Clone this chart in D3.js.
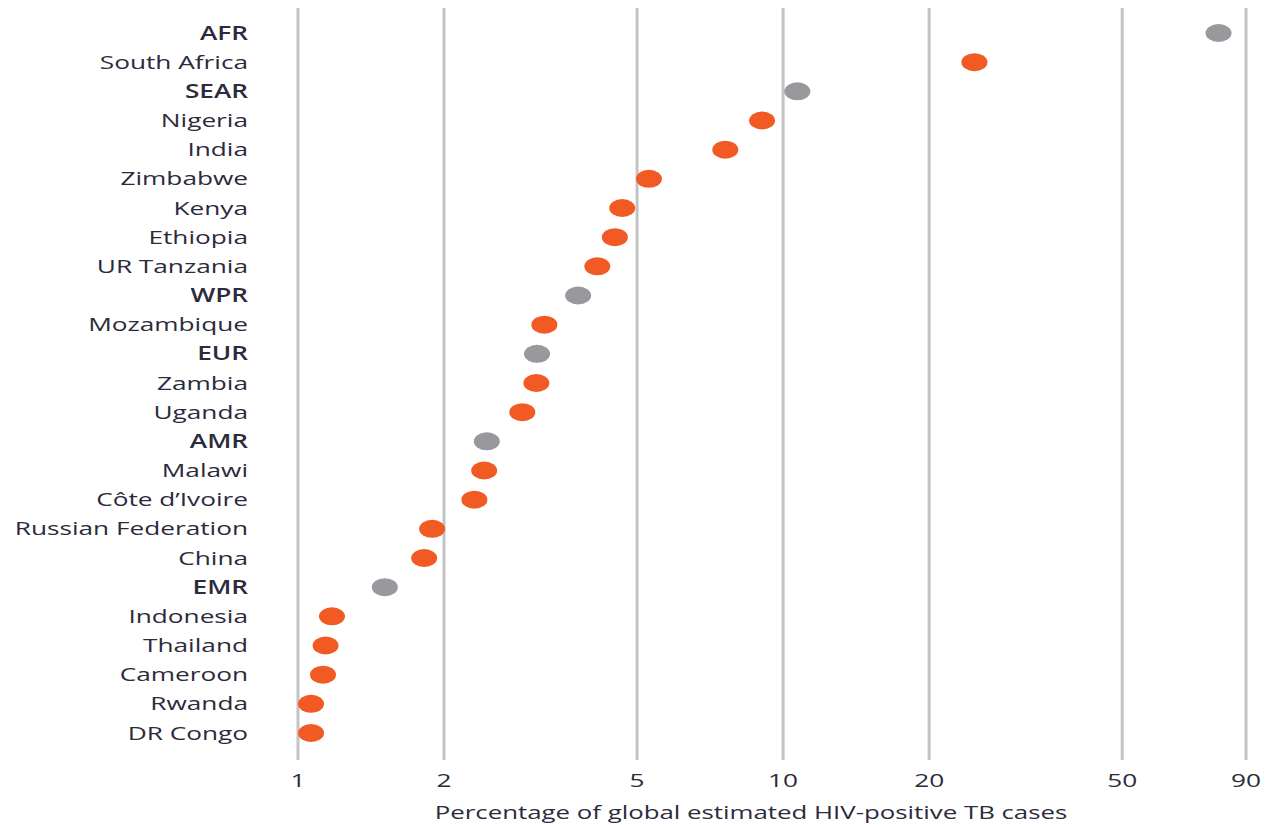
<!DOCTYPE html>
<html>
<head>
<meta charset="utf-8">
<script src="https://cdn.jsdelivr.net/npm/d3@7"></script>
<style>
  body { margin: 0; background: #fff; }
  svg text { font-family: "Open Sans", "DejaVu Sans", sans-serif; }
</style>
</head>
<body>
<div id="chart"></div>
<script>
// rows top to bottom
const names = ["AFR", "South Africa", "SEAR", "Nigeria", "India", "Zimbabwe", "Kenya", "Ethiopia",
  "UR Tanzania", "WPR", "Mozambique", "EUR", "Zambia", "Uganda", "AMR", "Malawi", "Côte d’Ivoire",
  "Russian Federation", "China", "EMR", "Indonesia", "Thailand", "Cameroon", "Rwanda", "DR Congo"];
const values = [79, 24.8, 10.7, 9.05, 7.6, 5.29, 4.66, 4.5, 4.14, 3.78, 3.22, 3.11, 3.1, 2.9,
  2.45, 2.42, 2.31, 1.89, 1.82, 1.51, 1.175, 1.14, 1.126, 1.064, 1.064];
const regions = ["AFR", "SEAR", "WPR", "EUR", "AMR", "EMR"];
const tickValues = [1, 2, 5, 10, 20, 50, 90];
const axisTitle = "Percentage of global estimated HIV-positive TB cases";

const width = 1268, height = 825;
const sx = 1.38; // the source type is set wide
const svg = d3.select("#chart").append("svg")
  .attr("width", width).attr("height", height);

const x = d3.scaleLog().domain([1, 90]).range([298, 1246]);
const y = d3.scalePoint().domain(names).range([33, 733]);

// gridlines
svg.append("g").selectAll("line")
  .data(tickValues).enter().append("line")
  .attr("x1", d => x(d)).attr("x2", d => x(d))
  .attr("y1", 8).attr("y2", 760)
  .attr("stroke", "#c3c3c7").attr("stroke-width", 3);

// tick labels
svg.append("g").selectAll("text")
  .data(tickValues).enter().append("text")
  .attr("transform", d => `translate(${x(d)},787) scale(${sx},1)`)
  .attr("text-anchor", "middle")
  .attr("font-size", 19).attr("fill", "#2b2b3b")
  .text(d => d);

svg.append("text")
  .attr("transform", `translate(751,819) scale(1.36,1)`)
  .attr("text-anchor", "middle")
  .attr("font-size", 19).attr("fill", "#2b2b3b")
  .text(axisTitle);

// row labels
svg.append("g").selectAll("text")
  .data(names).enter().append("text")
  .attr("transform", d => `translate(248,${y(d)}) scale(${sx},1)`)
  .attr("dy", "0.35em")
  .attr("text-anchor", "end")
  .attr("font-size", 19)
  .attr("font-weight", d => regions.includes(d) ? 600 : "normal")
  .attr("fill", "#2b2b3b")
  .text(d => d);

// dots
svg.append("g").selectAll("ellipse")
  .data(names).enter().append("ellipse")
  .attr("cx", (d, i) => x(values[i]))
  .attr("cy", d => y(d))
  .attr("rx", 13).attr("ry", 9)
  .attr("fill", d => regions.includes(d) ? "#98989d" : "#f15a22");
</script>
</body>
</html>
